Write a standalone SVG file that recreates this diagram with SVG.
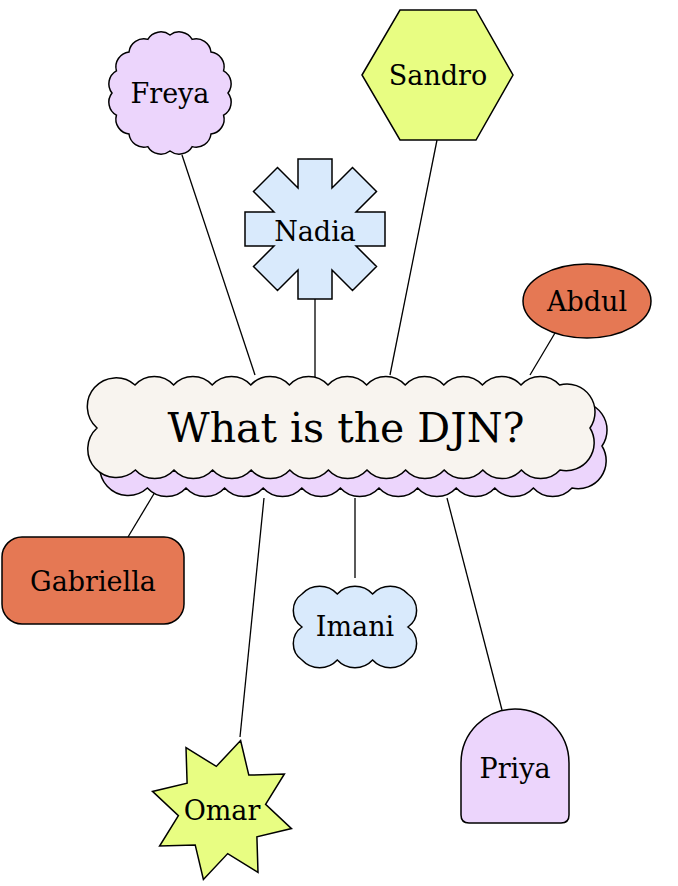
<svg xmlns="http://www.w3.org/2000/svg" width="678" height="886" viewBox="0 0 678 886">
<style>
.n{stroke:#000;stroke-width:1.5}
.t{font-family:"DejaVu Serif",serif;font-size:27px;fill:#000;text-anchor:middle;dominant-baseline:central}
.e{stroke:#000;stroke-width:1.3;fill:none}
</style>
<defs>
<path id="cloud" d="M135,385 a26,26 0 0,1 38.6,0 a26,26 0 0,1 38.6,0 a26,26 0 0,1 38.6,0 a26,26 0 0,1 38.6,0 a26,26 0 0,1 38.6,0 a26,26 0 0,1 38.6,0 a26,26 0 0,1 38.6,0 a26,26 0 0,1 38.6,0 a26,26 0 0,1 38.6,0 a26,26 0 0,1 38.6,0 a26,26 0 0,1 38.6,0 A28,28 0 0,1 590,428 A28,28 0 0,1 560,470 a26,26 0 0,1 -38.6,0 a26,26 0 0,1 -38.6,0 a26,26 0 0,1 -38.6,0 a26,26 0 0,1 -38.6,0 a26,26 0 0,1 -38.6,0 a26,26 0 0,1 -38.6,0 a26,26 0 0,1 -38.6,0 a26,26 0 0,1 -38.6,0 a26,26 0 0,1 -38.6,0 a26,26 0 0,1 -38.6,0 a26,26 0 0,1 -38.6,0 A28,28 0 0,1 97,428 A28,28 0 0,1 135,385 Z"/>
</defs>
<rect width="678" height="886" fill="#fff"/>
<g id="connectors">
<line class="e" x1="182" y1="155" x2="255" y2="375"/>
<line class="e" x1="437" y1="140" x2="390" y2="375"/>
<line class="e" x1="315" y1="298" x2="315" y2="378"/>
<line class="e" x1="555" y1="333" x2="530" y2="375"/>
<line class="e" x1="128" y1="537" x2="155" y2="492"/>
<line class="e" x1="355" y1="578" x2="355" y2="498"/>
<line class="e" x1="240" y1="737" x2="264" y2="498"/>
<line class="e" x1="502" y1="710" x2="447" y2="498"/>
</g>
<g id="center">
<use href="#cloud" class="n" fill="#ecd5fc" transform="translate(12,18)"/>
<use href="#cloud" class="n" fill="#f8f4ef"/>
<text class="t" x="346" y="428" style="font-size:41px">What is the DJN?</text>
</g>
<g id="freya">
<path class="n" fill="#ecd5fc" d="M228,93 A15,15 0 0,1 223.6,115.2 A15,15 0 0,1 211,134 A15,15 0 0,1 192.2,146.6 A15,15 0 0,1 170,151 A15,15 0 0,1 147.8,146.6 A15,15 0 0,1 129,134 A15,15 0 0,1 116.4,115.2 A15,15 0 0,1 112,93 A15,15 0 0,1 116.4,70.8 A15,15 0 0,1 129,52 A15,15 0 0,1 147.8,39.4 A15,15 0 0,1 170,35 A15,15 0 0,1 192.2,39.4 A15,15 0 0,1 211,52 A15,15 0 0,1 223.6,70.8 A15,15 0 0,1 228,93 Z"/>
<text class="t" x="170" y="93">Freya</text>
</g>
<g id="sandro">
<polygon class="n" fill="#e8fd82" points="362,75 400,10 476,10 513,75 476,140 400,140"/>
<text class="t" x="438" y="75">Sandro</text>
</g>
<g id="nadia">
<polygon class="n" fill="#d9eafc" transform="translate(315,229)" points="-17,-70 17,-70 17,-41 37.5,-61.5 61.5,-37.5 41,-17 70,-17 70,17 41,17 61.5,37.5 37.5,61.5 17,41 17,70 -17,70 -17,41 -37.5,61.5 -61.5,37.5 -41,17 -70,17 -70,-17 -41,-17 -61.5,-37.5 -37.5,-61.5 -17,-41"/>
<text class="t" x="315" y="231">Nadia</text>
</g>
<g id="abdul">
<ellipse class="n" fill="#e57854" cx="587" cy="301" rx="64" ry="37"/>
<text class="t" x="587" y="301">Abdul</text>
</g>
<g id="gabriella">
<rect class="n" fill="#e57854" x="2" y="537" width="182" height="87" rx="20"/>
<text class="t" x="93" y="581">Gabriella</text>
</g>
<g id="imani">
<path class="n" fill="#d9eafc" d="M302,594 a24,24 0 0,1 35.3,0 a24,24 0 0,1 35.3,0 a24,24 0 0,1 35.3,0 a20,20 0 0,1 0,33 a20,20 0 0,1 0,33 a24,24 0 0,1 -35.3,0 a24,24 0 0,1 -35.3,0 a24,24 0 0,1 -35.3,0 a20,20 0 0,1 0,-33 a20,20 0 0,1 0,-33 Z"/>
<text class="t" x="355" y="626">Imani</text>
</g>
<g id="omar">
<polygon class="n" fill="#e8fd82" transform="translate(222,810)" points="18.6,-69.5 26.8,-34.9 62.4,-36 43.6,-5.7 69.5,18.6 34.9,26.8 36,62.4 5.7,43.6 -18.6,69.5 -26.8,34.9 -62.4,36 -43.6,5.7 -69.5,-18.6 -34.9,-26.8 -36,-62.4 -5.7,-43.6"/>
<text class="t" x="222" y="810">Omar</text>
</g>
<g id="priya">
<path class="n" fill="#ecd5fc" d="M461,763 A54,54 0 0,1 569,763 L569,815 Q569,823 561,823 L469,823 Q461,823 461,815 Z"/>
<text class="t" x="515" y="768">Priya</text>
</g>
</svg>
